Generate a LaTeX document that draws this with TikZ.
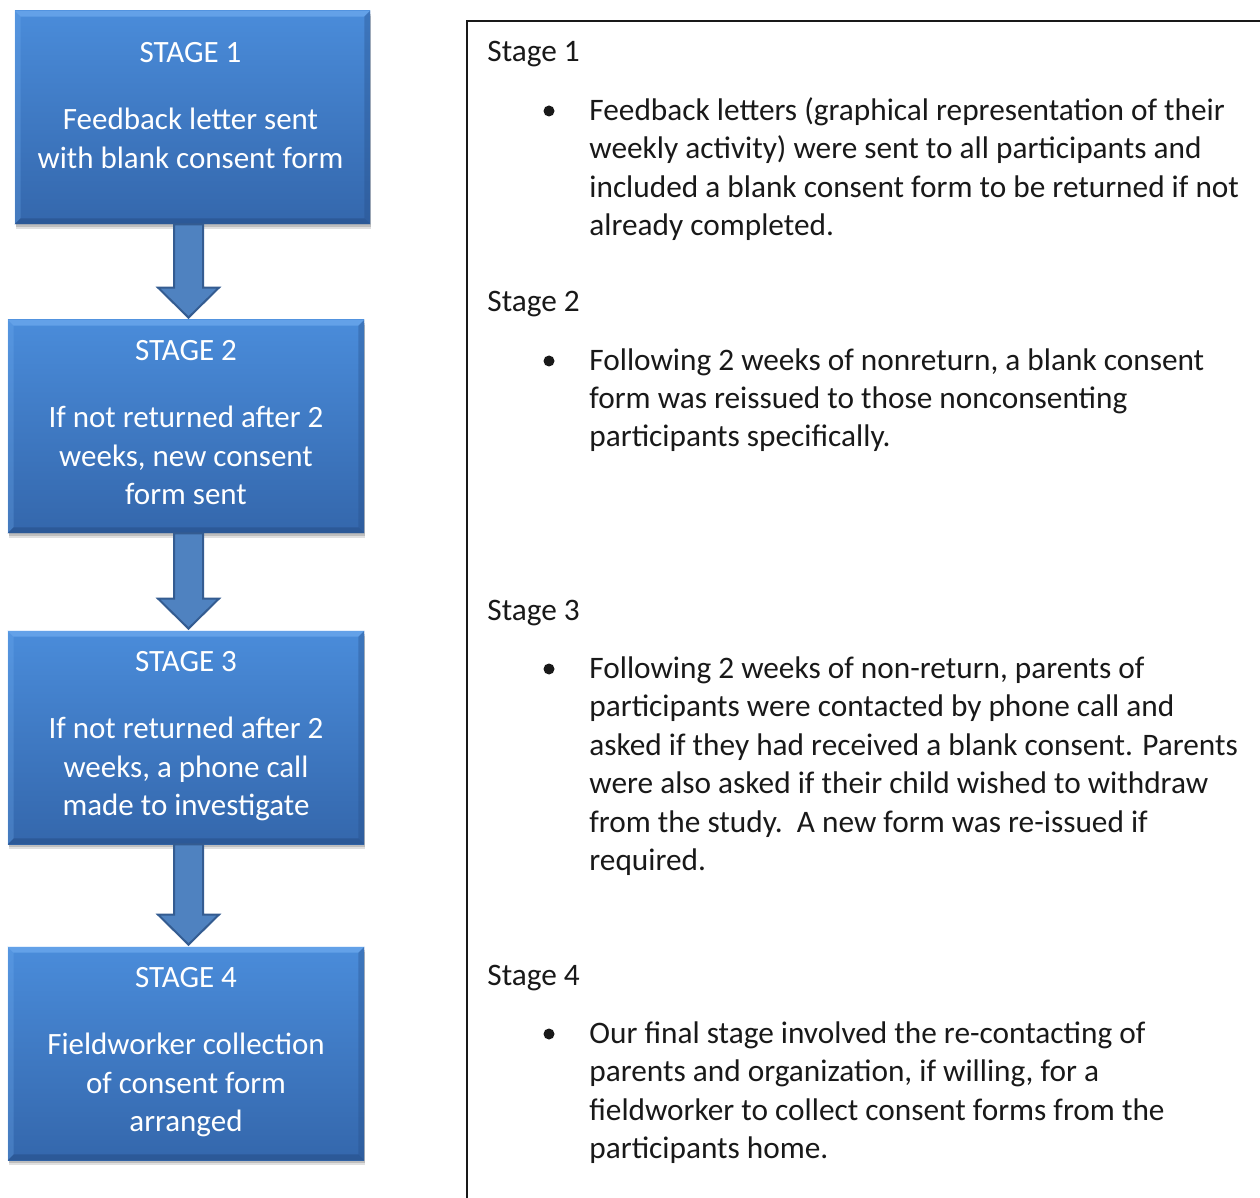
\documentclass[tikz,border=0pt]{standalone}
\usepackage{fontspec}
\setmainfont{Carlito}
\usetikzlibrary{calc,shadows}
\definecolor{boxtop}{RGB}{74,140,218}
\definecolor{boxbot}{RGB}{52,103,172}
\definecolor{arrfill}{RGB}{79,130,192}
\definecolor{arrline}{RGB}{52,92,145}
\definecolor{bevL}{RGB}{120,180,245}
\definecolor{bevD}{RGB}{38,78,135}
\definecolor{ink}{RGB}{25,25,25}
\begin{document}
\begin{tikzpicture}[x=0.5pt,y=-0.5pt,
  stagebox/.style={rectangle, draw=none, minimum width=178pt, minimum height=106.5pt, inner sep=0pt,
    top color=boxtop, bottom color=boxbot,
    drop shadow={shadow xshift=0.3pt, shadow yshift=-2.5pt, fill=black, opacity=0.12},
    drop shadow={shadow xshift=0.3pt, shadow yshift=-1.3pt, fill=black, opacity=0.15}},
  boxtitle/.style={text=white, font=\fontsize{15.5pt}{19.25pt}\selectfont, anchor=base, inner sep=0pt},
  boxbody/.style={text=white, font=\fontsize{15.5pt}{19.25pt}\selectfont, align=center, anchor=base, inner sep=0pt},
  barrow/.style={fill=arrfill, draw=arrline, line width=1pt, line join=miter},
  frame/.style={draw=ink, line width=1pt, rectangle, inner sep=0pt, anchor=north west, minimum width=417pt, minimum height=615pt},
  head/.style={text=ink, font=\fontsize{15.65pt}{19.25pt}\selectfont, anchor=base west, inner sep=0pt},
  bodytext/.style={text=ink, font=\fontsize{15.65pt}{19.25pt}\selectfont, align=left, anchor=base west, inner sep=0pt},
  bul/.style={circle, fill=ink, inner sep=0pt, minimum size=5.5pt},
  bevlight/.style={fill=bevL, opacity=0.55},
  bevlight2/.style={fill=bevL, opacity=0.25},
  bevdark/.style={fill=bevD, opacity=0.55},
  bevdark2/.style={fill=bevD, opacity=0.35}
]
\useasboundingbox (0,0) rectangle (1260,1198);
\clip (0,0) rectangle (1260,1198);
\fill[white] (0,0) rectangle (1260,1198);

% stage boxes
\node[stagebox, minimum width=177.5pt] (b1) at (192.5,117.5) {};
\node[stagebox] (b2) at (186,426.5) {};
\node[stagebox] (b3) at (186,737.5) {};
\node[stagebox] (b4) at (186,1053.5) {};

\foreach \n in {b1,b2,b3,b4}{
  \fill[bevlight] (\n.north west) -- (\n.north east) -- ($(\n.north east)+(-6,6)$) -- ($(\n.north west)+(6,6)$) -- cycle;
  \fill[bevlight2] (\n.north west) -- ($(\n.north west)+(6,6)$) -- ($(\n.south west)+(6,-6)$) -- (\n.south west) -- cycle;
  \fill[bevdark] (\n.south west) -- ($(\n.south west)+(6,-6)$) -- ($(\n.south east)+(-6,-6)$) -- (\n.south east) -- cycle;
  \fill[bevdark2] (\n.north east) -- (\n.south east) -- ($(\n.south east)+(-6,-6)$) -- ($(\n.north east)+(-6,6)$) -- cycle;
}

% box texts (multi-line nodes are placed by the baseline of their last line)
\node[boxtitle] (t1) at ($(b1.north)+(-2,52)$) {STAGE 1};
\node[boxbody] (d1) at ($(b1.north)+(-2,157.5)$) {Feedback letter sent\\with blank consent form};
\node[boxtitle] (t2) at ($(b2.north)+(0,41)$) {STAGE 2};
\node[boxbody] (d2) at ($(b2.north)+(0,185)$) {If not returned after 2\\weeks, new consent\\form sent};
\node[boxtitle] (t3) at ($(b3.north)+(0,41)$) {STAGE 3};
\node[boxbody] (d3) at ($(b3.north)+(0,185)$) {If not returned after 2\\weeks, a phone call\\made to investigate};
\node[boxtitle] (t4) at ($(b4.north)+(0,41)$) {STAGE 4};
\node[boxbody] (d4) at ($(b4.north)+(0,185)$) {Fieldworker collection\\of consent form\\arranged};

% block arrows
\coordinate (ax) at (188.5,0);
\foreach \a/\b in {b1/b2,b2/b3,b3/b4}{
  \draw[barrow] ($(\a.south -| ax)+(-14.5,0)$) -- ($(\b.north -| ax)+(-14.5,-32)$) -- ++(-16,0)
    -- ($(\b.north -| ax)+(0,-2)$) -- ($(\b.north -| ax)+(30.5,-32)$) -- ++(-16,0)
    -- ($(\a.south -| ax)+(14.5,0)$) -- cycle;
}

% right frame
\node[frame] (fr) at (466,20) {};

% right texts
\node[head] (h1) at (487,62) {Stage 1};
\node[bul] (u1) at (549,111) {};
\node[bodytext] (x1) at (589,236) {Feedback letters (graphical representation of their\\weekly activity) were sent to all participants and\\included a blank consent form to be returned if not\\already completed.};

\node[head] (h2) at (487,312) {Stage 2};
\node[bul] (u2) at (549,361) {};
\node[bodytext] (x2) at (589,447) {Following 2 weeks of nonreturn, a blank consent\\form was reissued to those nonconsenting\\participants specifically.};

\node[head] (h3) at (487,620) {Stage 3};
\node[bul] (u3) at (549,669) {};
\node[bodytext] (x3) at (589,870.5) {Following 2 weeks of non-return, parents of\\participants were contacted by phone call and\\asked if they had received a blank consent. Parents\\were also asked if their child wished to withdraw\\from the study.\ \ A new form was re-issued if\\required.};

\node[head] (h4) at (487,985) {Stage 4};
\node[bul] (u4) at (549,1034) {};
\node[bodytext] (x4) at (589,1158.5) {Our final stage involved the re-contacting of\\parents and organization, if willing, for a\\fieldworker to collect consent forms from the\\participants home.};
\end{tikzpicture}
\end{document}
